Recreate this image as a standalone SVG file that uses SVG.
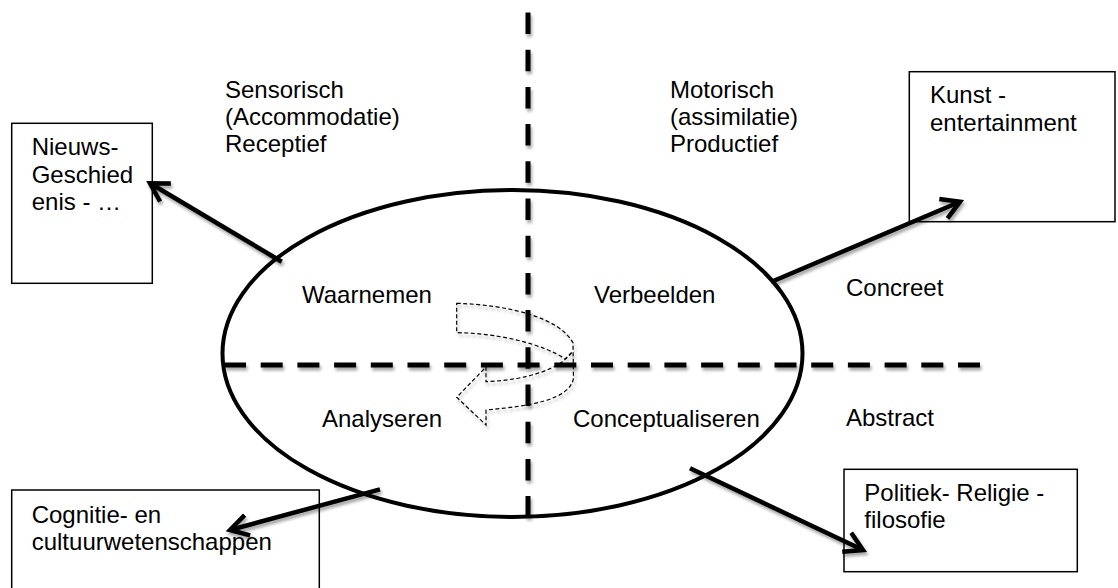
<svg xmlns="http://www.w3.org/2000/svg" width="1118" height="588" viewBox="0 0 1118 588">
  <style>
    text { font-family: "Liberation Sans", Arial, sans-serif; font-size: 24px; fill: #000; }
    .box { fill: #fff; stroke: #000; stroke-width: 1.5; }
    .axis { fill: none; stroke: #000; stroke-width: 5; }
    .link { fill: none; stroke: #000; stroke-width: 4.5; marker-end: url(#head); }
    .cycle { fill: none; stroke: #000; stroke-width: 1.2; stroke-dasharray: 4 2.5; }
  </style>
  <defs>
    <filter id="shadow" x="-10%" y="-10%" width="120%" height="130%">
      <feDropShadow dx="1.5" dy="3" stdDeviation="1.8" flood-color="#000" flood-opacity="0.35"/>
    </filter>
    <marker id="head" markerUnits="userSpaceOnUse" markerWidth="30" markerHeight="30" viewBox="-24 -15 30 30" refX="0" refY="0" orient="auto">
      <path d="M-18,-10.5 L0,0 L-18,10.5" fill="none" stroke="#000" stroke-width="4.5" stroke-linejoin="miter"/>
    </marker>
  </defs>

  <!-- axes -->
  <g id="axes" filter="url(#shadow)">
    <line class="axis" x1="528" y1="12.5" x2="528" y2="518" stroke-dasharray="21.5 15.7"/>
    <line class="axis" x1="224" y1="365" x2="980" y2="365" stroke-dasharray="22 14.7"/>
  </g>

  <!-- central cycle -->
  <g id="cycle">
    <ellipse cx="512.5" cy="353.5" rx="290" ry="163.5" fill="none" stroke="#000" stroke-width="4"/>
    <text x="302" y="303">Waarnemen</text>
    <text x="594" y="303">Verbeelden</text>
    <text x="322" y="427">Analyseren</text>
    <text x="573" y="427">Conceptualiseren</text>
    <path class="cycle" filter="url(#shadow)" d="M456.7,303.3 C510,305 560,318 573,343 L573.5,378 C570,400 530,406 486,410 L486,425 L456.7,397.3 L486,367 L486,381.7 C525,380 560,370 572.5,351.5 L565,359 C545,345 500,333 456.7,332.7 Z"/>
  </g>

  <!-- quadrant labels -->
  <g id="label-sensorisch">
    <text x="225" y="98">Sensorisch</text>
    <text x="225" y="125">(Accommodatie)</text>
    <text x="225" y="152">Receptief</text>
  </g>
  <g id="label-motorisch">
    <text x="670" y="98">Motorisch</text>
    <text x="670" y="125">(assimilatie)</text>
    <text x="670" y="152">Productief</text>
  </g>
  <g id="label-concreet"><text x="846" y="296">Concreet</text></g>
  <g id="label-abstract"><text x="846" y="426">Abstract</text></g>

  <!-- domain boxes -->
  <g id="box-nieuws">
    <rect class="box" x="11.7" y="123.3" width="140.6" height="160"/>
    <text x="31.7" y="155">Nieuws-</text>
    <text x="31.7" y="182.5">Geschied</text>
    <text x="31.7" y="210">enis - …</text>
  </g>
  <g id="box-kunst">
    <rect class="box" x="909.3" y="71.7" width="205.7" height="150"/>
    <text x="930" y="103">Kunst -</text>
    <text x="930" y="131">entertainment</text>
  </g>
  <g id="box-cognitie">
    <rect class="box" x="11.7" y="490" width="307.6" height="110"/>
    <text x="31.7" y="523">Cognitie- en</text>
    <text x="31.7" y="550">cultuurwetenschappen</text>
  </g>
  <g id="box-politiek">
    <rect class="box" x="844" y="469.3" width="233.3" height="102.4"/>
    <text x="864.3" y="501">Politiek- Religie -</text>
    <text x="864.3" y="527.5">filosofie</text>
  </g>

  <!-- connectors -->
  <g id="connectors" filter="url(#shadow)">
    <line class="link" x1="281.7" y1="261.7" x2="150" y2="183.3"/>
    <line class="link" x1="771" y1="282" x2="960" y2="201.7"/>
    <line class="link" x1="380" y1="489.3" x2="230" y2="530"/>
    <line class="link" x1="690" y1="468.3" x2="863" y2="550"/>
  </g>
</svg>
